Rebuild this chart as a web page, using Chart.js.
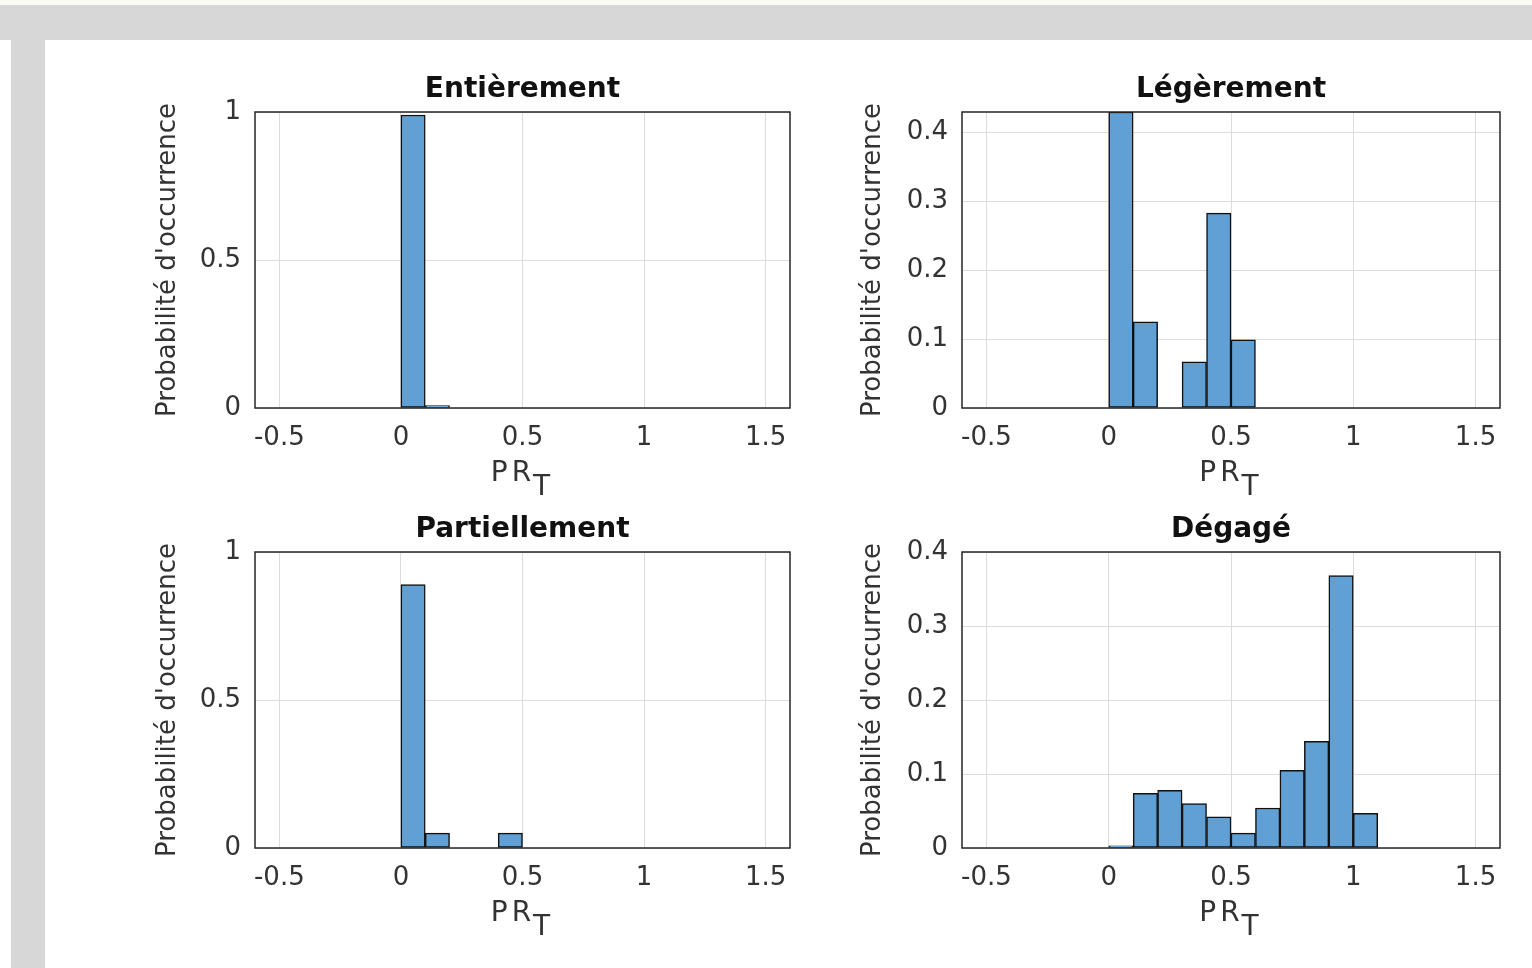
<!DOCTYPE html>
<html lang="fr">
<head>
<meta charset="utf-8">
<title>Probabilité d'occurrence de PR_T</title>
<script src="https://cdn.jsdelivr.net/npm/chart.js@4/dist/chart.umd.min.js"></script>
<style>
  html, body { margin: 0; padding: 0; background: #fff; }
  body { width: 1532px; height: 968px; position: relative; overflow: hidden; font-family: "DejaVu Sans", sans-serif; }
  .strip-top { position: absolute; left: 0; top: 0; width: 1532px; height: 5px; background: #fbfbf6; }
  .band-top { position: absolute; left: 0; top: 5px; width: 1532px; height: 35px; background: #d7d7d7; }
  .band-left { position: absolute; left: 11px; top: 40px; width: 34px; height: 928px; background: #d7d7d7; }
  .plot { position: absolute; }
  .xlabel { position: absolute; font-size: 28px; line-height: 28px; letter-spacing: 4px; color: #333; text-align: center; white-space: nowrap; }
  .xlabel span { position: relative; top: 14px; }
</style>
</head>
<body>
<div class="strip-top"></div>
<div class="band-top"></div>
<div class="band-left"></div>

<div class="plot" id="p1" style="left:140px;top:62px;width:670px;height:440px;"><canvas id="c1"></canvas></div>
<div class="plot" id="p2" style="left:845px;top:62px;width:675px;height:440px;"><canvas id="c2"></canvas></div>
<div class="plot" id="p3" style="left:140px;top:502px;width:670px;height:440px;"><canvas id="c3"></canvas></div>
<div class="plot" id="p4" style="left:845px;top:502px;width:675px;height:440px;"><canvas id="c4"></canvas></div>

<div class="xlabel" style="left:255px;top:458px;width:535px;">PR<span>T</span></div>
<div class="xlabel" style="left:962px;top:458px;width:538px;">PR<span>T</span></div>
<div class="xlabel" style="left:255px;top:898px;width:535px;">PR<span>T</span></div>
<div class="xlabel" style="left:962px;top:898px;width:538px;">PR<span>T</span></div>

<script>
// bin centres of the histograms (bin width 0.1, starting at 0)
const binCenters = [0.05, 0.15, 0.25, 0.35, 0.45, 0.55, 0.65, 0.75, 0.85, 0.95, 1.05];

// probability per bin
const entierement   = [0.99, 0.008, 0, 0, 0, 0, 0, 0, 0, 0, 0];
const legerement    = [0.43, 0.125, 0, 0.067, 0.283, 0.099, 0, 0, 0, 0, 0];
const partiellement = [0.89, 0.05, 0, 0, 0.05, 0, 0, 0, 0, 0, 0];
const degage        = [0.003, 0.074, 0.078, 0.060, 0.042, 0.020, 0.054, 0.105, 0.144, 0.368, 0.047];

const titles = ['Entièrement', 'Légèrement', 'Partiellement', 'Dégagé'];
const yLabel = "Probabilité d'occurrence";

const xTicks = [-0.5, 0, 0.5, 1, 1.5];
const xRange = [-0.6, 1.6];
const yTicksUnit = [0, 0.5, 1];
const yTicksSmall = [0, 0.1, 0.2, 0.3, 0.4];

const FONT = '"DejaVu Sans", sans-serif';
const BAR_FILL = 'rgb(96,160,212)';
const BAR_EDGE = '#111';
const GRID = '#dcdcdc';
const AXIS = '#262626';
const TEXT = '#333';

// box round the plot area, like MATLAB's axes box
const framePlugin = {
  id: 'frame',
  afterDraw(chart) {
    const { ctx, chartArea: a } = chart;
    ctx.save();
    ctx.strokeStyle = AXIS;
    ctx.lineWidth = 1.5;
    ctx.strokeRect(a.left, a.top, a.right - a.left, a.bottom - a.top);
    ctx.restore();
  },
};

function makeHistogram(canvasId, title, values, yMax, yTicks, yAxisWidth) {
  return new Chart(document.getElementById(canvasId), {
    type: 'bar',
    data: {
      datasets: [{
        data: binCenters.map((x, i) => ({ x, y: values[i] > 0 ? values[i] : null })),
        backgroundColor: BAR_FILL,
        borderColor: BAR_EDGE,
        borderWidth: 1.5,
        borderSkipped: false,
        barPercentage: 1,
        categoryPercentage: 1,
      }],
    },
    options: {
      responsive: true,
      maintainAspectRatio: false,
      animation: false,
      layout: { padding: { left: 0, right: 20, top: 0, bottom: 0 } },
      plugins: {
        legend: { display: false },
        tooltip: { enabled: false },
        title: {
          display: true,
          fullSize: false, // centre over the plot area, not the canvas
          text: title,
          color: '#111',
          font: { family: FONT, size: 28, weight: 'bold' },
          padding: { top: 10.7, bottom: 5.7 },
        },
      },
      scales: {
        x: {
          type: 'linear',
          min: xRange[0],
          max: xRange[1],
          offset: false,
          afterBuildTicks: s => { s.ticks = xTicks.map(v => ({ value: v })); },
          afterFit: s => { s.height = 94; },
          grid: { color: GRID, drawTicks: false, offset: false },
          border: { display: false },
          ticks: {
            color: TEXT,
            font: { family: FONT, size: 26 },
            padding: 15,
            autoSkip: false,
            maxRotation: 0,
            callback: v => String(v),
          },
        },
        y: {
          min: 0,
          max: yMax,
          afterBuildTicks: s => { s.ticks = yTicks.map(v => ({ value: v })); },
          afterFit: s => { s.width = yAxisWidth; },
          grid: { color: GRID, drawTicks: false },
          border: { display: false },
          ticks: {
            color: TEXT,
            font: { family: FONT, size: 26 },
            padding: 14,
            autoSkip: false,
            callback: v => String(v),
          },
          title: {
            display: true,
            text: yLabel,
            color: TEXT,
            font: { family: FONT, size: 26 },
            padding: { top: 13, bottom: 0 },
          },
        },
      },
    },
    plugins: [framePlugin],
  });
}

makeHistogram('c1', titles[0], entierement, 1, yTicksUnit, 115);
makeHistogram('c2', titles[1], legerement, 0.43, yTicksSmall, 117);
makeHistogram('c3', titles[2], partiellement, 1, yTicksUnit, 115);
makeHistogram('c4', titles[3], degage, 0.4, yTicksSmall, 117);
</script>
</body>
</html>
